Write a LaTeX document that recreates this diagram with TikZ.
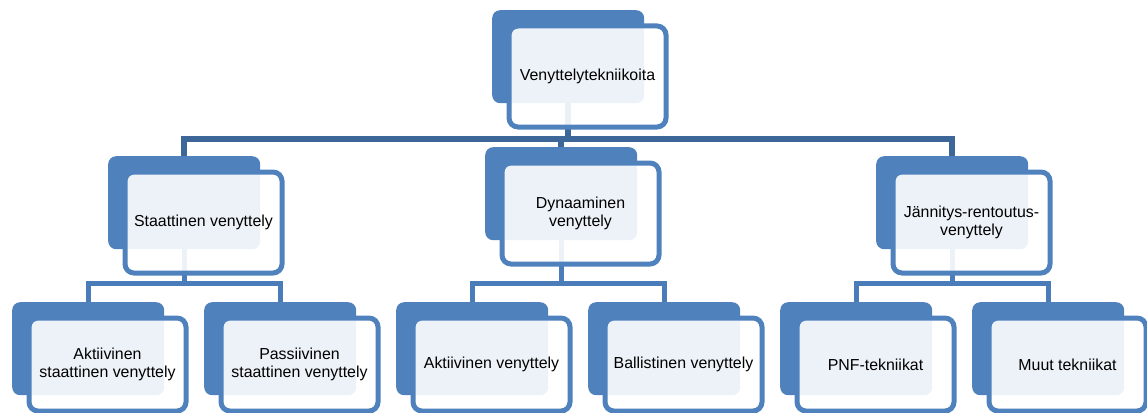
\documentclass[tikz,border=0pt]{standalone}
\usepackage{fontspec}
\setmainfont{Liberation Sans}
\usetikzlibrary{calc}
\pgfdeclarelayer{bg}\pgfdeclarelayer{fg}
\pgfsetlayers{bg,main,fg}
\definecolor{boxblue}{HTML}{4F81BD}
\definecolor{linedark}{HTML}{3D6699}
\definecolor{linemid}{HTML}{4A7CB9}
\tikzset{
 backbox/.style={fill=boxblue, draw=none, rounded corners=8pt, minimum width=152pt, minimum height=93pt, inner sep=0pt},
 frontbox/.style={draw=boxblue, line width=5pt, fill=white, fill opacity=0.9, text opacity=1, rounded corners=9pt, minimum width=157pt, inner sep=0pt, align=center, font=\fontsize{15.9}{18}\selectfont, text=black},
 connA/.style={draw=linedark, line width=5.5pt},
 connB/.style={draw=linemid, line width=5.3pt},
}
\newcommand\mybox[5]{%
 \node[backbox, anchor=north west] (#1b) at (#2,#3) {};
 \begin{pgfonlayer}{fg}
 \node[frontbox, minimum height=#4, anchor=north west] (#1) at ($(#1b.north west)+(14.5,13.5)$) {#5};
 \end{pgfonlayer}
}
\begin{document}
\begin{tikzpicture}[x=1pt,y=-1pt]
\useasboundingbox (0,0) rectangle (1147,412);
\mybox{top}{492}{10}{101pt}{Venyttelytekniikoita}
\mybox{sta}{108}{156}{101pt}{Staattinen venyttely}
\mybox{dyn}{485}{147}{101pt}{Dynaaminen\\venyttely}
\mybox{jan}{876}{156}{101pt}{Jännitys-rentoutus-\\venyttely}
\mybox{aks}{12}{302}{93pt}{Aktiivinen\\staattinen venyttely}
\mybox{pas}{204}{302}{93pt}{Passiivinen\\staattinen venyttely}
\mybox{akv}{396}{302}{93pt}{Aktiivinen venyttely}
\mybox{bal}{588}{302}{93pt}{Ballistinen venyttely}
\mybox{pnf}{780}{302}{93pt}{PNF-tekniikat}
\mybox{muu}{972}{302}{93pt}{Muut tekniikat}
\coordinate (bar1) at (0,139);
\coordinate (bar2) at (0,283.5);
\begin{pgfonlayer}{bg}
\draw[connA] (topb.south) -- (topb.south |- bar1) -| (stab.north);
\draw[connA] (topb.south) -- (topb.south |- bar1) -| (dynb.north);
\draw[connA] (topb.south) -- (topb.south |- bar1) -| (janb.north);
\draw[connB] (stab.south) -- (stab.south |- bar2) -| (aksb.north);
\draw[connB] (stab.south) -- (stab.south |- bar2) -| (pasb.north);
\draw[connB] (dynb.south) -- (dynb.south |- bar2) -| (akvb.north);
\draw[connB] (dynb.south) -- (dynb.south |- bar2) -| (balb.north);
\draw[connB] (janb.south) -- (janb.south |- bar2) -| (pnfb.north);
\draw[connB] (janb.south) -- (janb.south |- bar2) -| (muub.north);
\end{pgfonlayer}
\end{tikzpicture}
\end{document}
